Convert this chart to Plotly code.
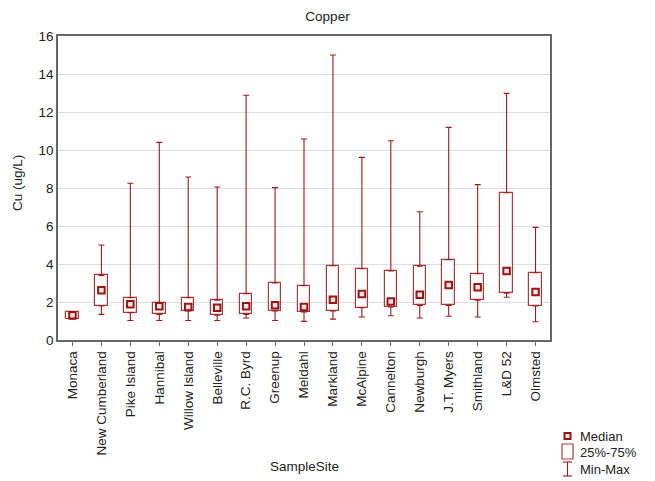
import plotly.graph_objects as go

# Dissolved copper by sampling site (ug/L): min, quartiles, median, max
sites = ["Monaca", "New Cumberland", "Pike Island", "Hannibal", "Willow Island",
         "Belleville", "R.C. Byrd", "Greenup", "Meldahl", "Markland", "McAlpine",
         "Cannelton", "Newburgh", "J.T. Myers", "Smithland", "L&D 52", "Olmsted"]
cu_min = [1.10, 1.35, 1.03, 1.03, 1.03, 1.03, 1.16, 1.03, 0.98, 1.10, 1.21,
          1.28, 1.16, 1.25, 1.21, 2.25, 0.96]
cu_q1 = [1.10, 1.79, 1.44, 1.35, 1.53, 1.30, 1.35, 1.53, 1.47, 1.53, 1.70,
         1.74, 1.82, 1.82, 2.10, 2.46, 1.79]
cu_median = [1.30, 2.62, 1.88, 1.78, 1.74, 1.70, 1.78, 1.83, 1.74, 2.12, 2.42,
             2.03, 2.38, 2.90, 2.78, 3.63, 2.53]
cu_q3 = [1.49, 3.40, 2.23, 1.96, 2.23, 2.10, 2.44, 3.00, 2.86, 3.91, 3.75,
         3.63, 3.88, 4.23, 3.49, 7.75, 3.54]
cu_max = [1.49, 5.00, 8.25, 10.40, 8.58, 8.05, 12.88, 8.02, 10.58, 15.00, 9.61,
          10.49, 6.75, 11.19, 8.18, 12.98, 5.93]

WHISKER = "#9b1b1b"
BOX = "#a83c3c"
MED_EDGE = "#9b1414"
MED_FILL = "#f6e4e4"
AXIS = "#666666"
TEXT = "#222222"
FONT = "Liberation Sans, Arial, sans-serif"

fig = go.Figure()

# 25%-75% boxes
fig.add_trace(go.Bar(
    x=sites, y=[hi - lo for lo, hi in zip(cu_q1, cu_q3)], base=cu_q1,
    width=0.43, marker=dict(color="white", line=dict(color=BOX, width=1.2)),
    showlegend=False, hoverinfo="skip"))

# upper whiskers (Q3 -> max)
fig.add_trace(go.Scatter(
    x=sites, y=cu_q3, mode="markers",
    marker=dict(size=1, color="rgba(0,0,0,0)"),
    error_y=dict(type="data", symmetric=False,
                 array=[mx - q for q, mx in zip(cu_q3, cu_max)],
                 arrayminus=[0] * len(sites),
                 color=WHISKER, thickness=1.1, width=3),
    showlegend=False, hoverinfo="skip"))

# lower whiskers (min -> Q1)
fig.add_trace(go.Scatter(
    x=sites, y=cu_q1, mode="markers",
    marker=dict(size=1, color="rgba(0,0,0,0)"),
    error_y=dict(type="data", symmetric=False,
                 array=[0] * len(sites),
                 arrayminus=[q - mn for q, mn in zip(cu_q1, cu_min)],
                 color=WHISKER, thickness=1.1, width=3),
    showlegend=False, hoverinfo="skip"))

# medians
fig.add_trace(go.Scatter(
    x=sites, y=cu_median, mode="markers",
    marker=dict(symbol="square", size=6.5, color=MED_FILL,
                line=dict(color=MED_EDGE, width=2)),
    showlegend=False, hoverinfo="skip"))

# plot area in pixels (for the hand-drawn key)
L, R, T, B = 58, 550, 36, 340
def px(x):
    return (x - L) / (R - L)
def py(y):
    return (B - y) / (B - T)

shapes = [
    # median key
    dict(type="rect", xref="paper", yref="paper",
         x0=px(564.5), x1=px(570.5), y0=py(439), y1=py(433),
         fillcolor=MED_FILL, line=dict(color=MED_EDGE, width=2)),
    # box key
    dict(type="rect", xref="paper", yref="paper",
         x0=px(562), x1=px(573), y0=py(459), y1=py(444),
         fillcolor="white", line=dict(color=BOX, width=1.2)),
    # whisker key
    dict(type="line", xref="paper", yref="paper",
         x0=px(567.5), x1=px(567.5), y0=py(476), y1=py(462),
         line=dict(color=WHISKER, width=1.1)),
    dict(type="line", xref="paper", yref="paper",
         x0=px(563), x1=px(572), y0=py(462), y1=py(462),
         line=dict(color=WHISKER, width=1.1)),
    dict(type="line", xref="paper", yref="paper",
         x0=px(563), x1=px(572), y0=py(476), y1=py(476),
         line=dict(color=WHISKER, width=1.1)),
]

annotations = [
    dict(text="Median", x=px(578), y=py(436), xref="paper", yref="paper",
         xanchor="left", yanchor="middle", showarrow=False,
         font=dict(size=13, color=TEXT, family=FONT)),
    dict(text="25%-75%", x=px(578), y=py(452), xref="paper", yref="paper",
         xanchor="left", yanchor="middle", showarrow=False,
         font=dict(size=13, color=TEXT, family=FONT)),
    dict(text="Min-Max", x=px(578), y=py(469), xref="paper", yref="paper",
         xanchor="left", yanchor="middle", showarrow=False,
         font=dict(size=13, color=TEXT, family=FONT)),
    dict(text="SampleSite", x=0.5, y=py(467), xref="paper", yref="paper",
         xanchor="center", yanchor="middle", showarrow=False,
         font=dict(size=13.5, color=TEXT, family=FONT)),
    dict(text="Cu (ug/L)", x=px(17), y=py(183), xref="paper", yref="paper",
         xanchor="center", yanchor="middle", showarrow=False, textangle=-90,
         font=dict(size=13.5, color=TEXT, family=FONT)),
]

fig.update_layout(
    width=655, height=481,
    margin=dict(l=L, r=655 - R, t=T, b=481 - B),
    paper_bgcolor="white", plot_bgcolor="white",
    font=dict(family=FONT, size=13, color=TEXT),
    title=dict(text="Copper", x=0.5, xref="container", xanchor="center",
               y=1 - 16 / 481, yanchor="middle",
               font=dict(size=13.5, color=TEXT, family=FONT)),
    showlegend=False,
    bargap=0,
    xaxis=dict(type="category", categoryorder="array", categoryarray=sites,
               range=[-0.5, len(sites) - 0.5],
               showline=True, linecolor=AXIS, linewidth=1.5, mirror=True,
               ticks="outside", ticklen=4, tickcolor=AXIS, tickwidth=1,
               tickangle=-90, tickfont=dict(size=13.5, color=TEXT),
               showgrid=False, zeroline=False),
    xaxis2=dict(type="category", categoryorder="array", categoryarray=sites,
                range=[-0.5, len(sites) - 0.5], overlaying="x", side="top",
                ticks="inside", ticklen=3, tickcolor=AXIS, showticklabels=False,
                showgrid=False, showline=False, zeroline=False),
    yaxis=dict(range=[0, 16], dtick=2, showline=True, linecolor=AXIS,
               linewidth=1.5, mirror=True, ticks="", showgrid=True,
               gridcolor="#dedede", gridwidth=1, zeroline=False,
               tickfont=dict(size=13.5, color=TEXT)),
    yaxis2=dict(range=[0, 16], dtick=2, overlaying="y", side="right",
                ticks="inside", ticklen=3, tickcolor=AXIS,
                showticklabels=False, showgrid=False, showline=False,
                zeroline=False),
    shapes=shapes,
    annotations=annotations,
)

fig.write_html("out.html")
